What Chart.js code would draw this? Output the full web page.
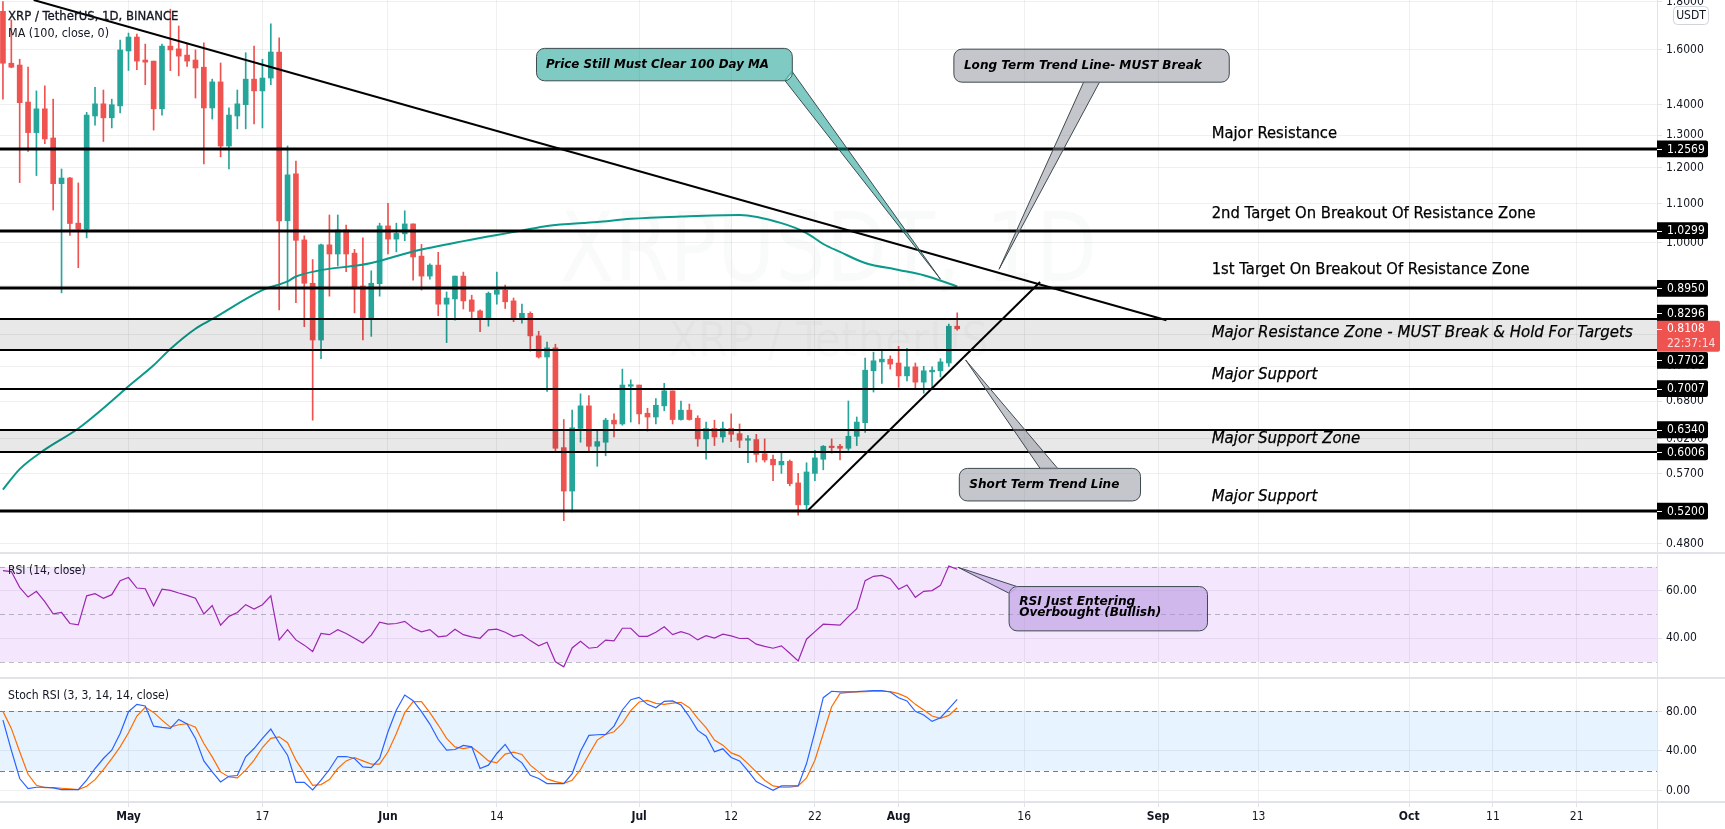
<!DOCTYPE html>
<html><head><meta charset="utf-8">
<style>html,body{margin:0;padding:0;background:#fff;overflow:hidden}canvas{display:block}</style>
<script src="https://cdn.jsdelivr.net/npm/chart.js@4"></script>
</head><body><canvas id="c" width="1725" height="829"></canvas>
<script>
const highs=[1.80,1.721,1.564,1.534,1.448,1.466,1.419,1.197,1.173,1.157,1.374,1.461,1.451,1.419,1.639,1.667,1.663,1.623,1.557,1.623,1.767,1.696,1.626,1.6,1.628,1.49,1.55,1.389,1.451,1.589,1.615,1.564,1.705,1.648,1.266,1.22,1.017,.96,.997,1.07,1.07,1.044,.984,1.012,.934,1.049,1.101,1.049,1.081,1.047,.996,.95,.977,.887,.922,.931,.88,.849,.887,.931,.902,.874,.861,.845,.806,.785,.781,.65,.665,.692,.689,.633,.652,.659,.735,.716,.707,.668,.684,.71,.697,.68,.675,.656,.646,.649,.646,.659,.643,.625,.627,.62,.596,.6,.589,.57,.585,.603,.61,.62,.612,.68,.654,.755,.766,.77,.759,.777,.773,.746,.74,.739,.754,.82,.843];
const opens=[1.758,1.549,1.542,1.409,1.308,1.386,1.291,1.155,1.171,1.049,1.034,1.362,1.403,1.356,1.396,1.596,1.651,1.561,1.557,1.386,1.615,1.604,1.58,1.561,1.534,1.389,1.48,1.266,1.362,1.4,1.49,1.448,1.494,1.592,1.055,1.183,1.007,.906,.789,.995,.973,1.032,.975,.9,.83,.905,1.042,1.009,1.022,1.047,.968,.922,.947,.861,.872,.922,.87,.847,.83,.882,.891,.868,.83,.842,.797,.757,.774,.607,.546,.636,.672,.609,.615,.649,.643,.705,.707,.66,.654,.672,.697,.65,.665,.652,.62,.636,.623,.636,.628,.618,.619,.598,.59,.582,.587,.557,.528,.57,.59,.609,.609,.606,.624,.645,.732,.748,.753,.746,.723,.739,.712,.73,.732,.746,.816];
const closes=[1.549,1.534,1.407,1.308,1.386,1.288,1.155,1.171,1.048,1.034,1.365,1.403,1.356,1.4,1.6,1.651,1.557,1.553,1.386,1.615,1.6,1.576,1.557,1.531,1.389,1.48,1.266,1.365,1.403,1.49,1.448,1.494,1.592,1.055,1.18,1.006,.906,.789,.995,.973,1.032,.973,.897,.83,.906,1.042,1.009,1.023,1.047,.966,.922,.947,.861,.874,.922,.868,.846,.83,.884,.891,.866,.83,.842,.797,.757,.774,.606,.546,.637,.672,.609,.616,.649,.643,.707,.707,.659,.654,.673,.697,.65,.665,.65,.62,.636,.623,.636,.627,.618,.619,.597,.589,.582,.587,.556,.528,.572,.592,.609,.607,.606,.624,.646,.733,.75,.753,.744,.723,.739,.712,.732,.733,.748,.816,.8108];
const lows=[1.419,1.532,1.158,1.249,1.178,1.273,1.083,.885,1.018,.941,1.012,1.332,1.28,1.323,1.372,1.522,1.525,1.47,1.316,1.365,1.521,1.502,1.537,1.423,1.212,1.352,1.233,1.197,1.32,1.32,1.336,1.323,1.47,.849,.899,.864,.815,.649,.754,.878,.945,.932,.843,.789,.796,.878,.973,.978,1.005,.913,.891,.915,.837,.784,.828,.851,.832,.805,.816,.861,.852,.825,.822,.768,.755,.696,.6,.508,.519,.615,.601,.58,.595,.623,.641,.646,.643,.632,.643,.664,.643,.649,.649,.609,.59,.61,.615,.616,.607,.585,.586,.586,.56,.57,.553,.515,.52,.56,.575,.599,.589,.603,.61,.63,.695,.71,.735,.703,.714,.7,.693,.7,.721,.74,.808];
const maDays=[0,2,5,9,13,15,18,20,23,25,31,34,35,44,49,55,62,65,71,75,81,88,93,96,98,100,103,107,110,114];
const maValues=[.548,.576,.604,.636,.68,.705,.742,.772,.811,.83,.891,.91,.921,.952,.979,1.004,1.03,1.042,1.052,1.06,1.066,1.07,1.049,1.024,.997,.978,.952,.936,.924,.899];
const rsiValues=[68.4,68,61.4,57.3,59.7,55.4,50.2,50.8,46.2,45.6,57.8,58.7,56.8,58.3,64.2,65.5,61.1,60.8,53.6,60.6,60.1,59,58,56.8,50.2,53.7,45.5,49.2,50.8,54.1,52.3,54.1,57.8,39.3,43.6,39.3,37.1,34.4,42,41.5,43.6,42,40,38,41.3,46.7,45.9,46.2,47.1,44.3,42.7,43.6,40.6,41,43.8,41.5,40.6,40,43.5,43.8,42.5,40.7,41.5,39,36.8,38.3,30.1,28,35.9,38.7,35.8,36.2,39.2,38.9,44.2,44.2,40.8,40.8,42.5,44.8,41.5,42.8,41.7,39.3,41.1,40.1,41.7,41,39.9,40,37.5,36.6,35.8,36.8,33.7,30.5,39.6,42.8,45.9,45.7,45.5,49.1,52.4,64.2,66,66.4,65,60.6,62.4,57.2,59.7,60,62.2,70.3,69];
const stochK=[71.2,40.8,12.2,2,3.4,3.4,2.7,1,1,1,10.5,22.3,32.4,40.8,57.7,79.7,87.1,85.4,65.1,63.8,62.8,71.9,67.2,52.7,30,18.9,8.8,14.5,15.2,34.1,42.5,52.7,62.1,48.3,35.8,8.4,8.4,.7,10.5,21.3,34.4,34.4,32.4,24,23.3,32.4,59.4,81.4,96.5,90.8,79.7,67.2,51.6,40.8,41.5,45.6,44.2,22.3,25.7,37.5,46.6,34.1,28,15.5,12.2,7.1,7.1,7.1,17.2,39.8,55.7,56.4,56.7,65.1,81.4,91.8,94.2,87.1,83.7,90.1,90.5,86.4,74.6,60.8,55,39.2,42.2,33.4,30,19.9,9.1,4.7,.3,4.7,4.7,4.7,27.3,59.4,93.8,100.3,99.6,99.6,99.9,100.6,100.9,100.9,99.6,93.8,90.5,80,76.3,69.9,73.6,82.7,92.2];
const stochD=[80,62.8,39.2,16.5,5.4,3,3,2.4,1.7,1,4.4,11.1,21.3,32.4,44.2,58.4,75.3,84.1,79,71.2,64.1,66.5,67.5,64.1,47.6,34.1,18.9,13.8,12.8,20.6,30.7,43.5,52.7,54.3,48.3,30.7,17.9,5.4,6.1,11.1,22.3,30,33.4,30,26.7,26.7,39.2,57.7,78.7,89.8,89.8,78.7,66.2,52.7,44.2,42.5,43.9,37.5,30,28,36.8,38.8,36.5,25.7,18.9,11.8,9.1,7.4,10.5,21.3,36.5,51,56.7,59.4,67.8,80.7,89.5,91.1,88.1,87.1,88.4,89.1,83.7,72.9,63.5,51,45.9,38.1,34.8,27.3,18.9,10.5,4.7,3.4,3.4,4.7,12.8,30.7,57.7,84.7,98.2,99.2,99.6,99.9,100.3,100.3,99.9,97.9,94.2,87.1,81.4,75.3,72.9,75.9,83.7];
const xTickDays=[15,31,46,59,76,87,97,107,122,138,150,168,178,188];
const xTickLabels=['May','17','Jun','14','Jul','12','22','Aug','16','Sep','13','Oct','11','21'];
const boldLabels=['May','Jun','Jul','Aug','Sep','Oct'];
const priceTicks=[1.8,1.6,1.4,1.3,1.2,1.1,1.0,.9,.8,.74,.68,.62,.57,.52,.48];
const rsiTicks=[60,40];
const stochTicks=[80,40,0];
const levelValues=[1.2569,1.0299,.895,.8296,.7702,.7007,.634,.6006,.52];
const levelTexts=['1.2569','1.0299','0.8950','0.8296','0.7702','0.7007','0.6340','0.6006','0.5200'];
const lastPrice=.8108;

const FONT='"DejaVu Sans Condensed","DejaVu Sans",sans-serif';
const NOTE_FONT='"DejaVu Sans",sans-serif';
const GREEN='#26a69a',RED='#ef5350',AXIS='#e0e3eb',GRID='rgba(42,46,57,0.07)',TXT='#131722';
const candleColor=i=>closes[i]>=opens[i]?GREEN:RED;

const labelNotes=[
 {t:'Major Resistance',day:144.4,p:1.303,w:125.4,it:false},
 {t:'2nd Target On Breakout Of Resistance Zone',day:144.4,p:1.072,w:324,it:false},
 {t:'1st Target On Breakout Of Resistance Zone',day:144.4,p:.935,w:318,it:false},
 {t:'Major Resistance Zone - MUST Break & Hold For Targets',day:144.4,p:.802,w:424.6,it:true},
 {t:'Major Support',day:144.4,p:.725,w:107.5,it:true},
 {t:'Major Support Zone',day:144.4,p:.619,w:149.7,it:true},
 {t:'Major Support',day:144.4,p:.5386,w:107.5,it:true}];
const callouts=[
 {axis:'y',l:63.74,r:94.3,top:1.606,bot:1.484,b1:[93.44,1.484],b2:[94.3,1.517],tip:[112,.915],fill:'rgba(0,150,136,0.5)',lines:[['Price Still Must Clear 100 Day MA',64.88,223]]},
 {axis:'y',l:113.6,r:146.5,top:1.603,bot:1.479,b1:[129.1,1.479],b2:[131,1.479],tip:[119,.9375],fill:'rgba(139,141,152,0.5)',lines:[['Long Term Trend Line- MUST Break',114.8,238]]},
 {axis:'y',l:114.25,r:135.9,top:.577,bot:.533,b1:[123.9,.577],b2:[126,.577],tip:[115,.7516],fill:'rgba(139,141,152,0.5)',lines:[['Short Term Trend Line',115.45,150]]},
 {axis:'yRsi',l:120.2,r:143.9,top:61.7,bot:43.1,b1:[121.15,61.7],b2:[120.2,58.9],tip:[114.1,69.8],fill:'rgba(174,140,220,0.5)',lines:[['RSI Just Entering',121.4,117.4,55.4],['Overbought (Bullish)',121.4,142,50.5]]}];
const trendLines=[[3.67,1.807,139,.828],[96.2,.521,123.9,.909]];

const noPad=s=>{s.paddingTop=0;s.paddingBottom=0;s.paddingLeft=0;s.paddingRight=0;};
const fixedAxis=s=>{s.width=68;noPad(s);};
function yAxis(extra,ticks,fmt){return Object.assign({position:'right',stack:'panes',bounds:'data',
  border:{display:false},grid:{color:GRID,tickLength:5,tickColor:AXIS,tickWidth:1,drawTicks:true},
  ticks:{color:TXT,padding:4,font:{family:FONT,size:12},autoSkip:false,callback:fmt,maxRotation:0},
  afterFit:fixedAxis,afterBuildTicks:s=>{s.ticks=ticks.map(v=>({value:v}));}},extra);}

function rr(c,x,y,w,h,r){c.beginPath();c.roundRect(x,y,w,h,r);}
const chartPlugin={id:'tv',
 beforeDatasetsDraw(ch){
  const c=ch.ctx,a=ch.chartArea,s=ch.scales;
  c.save();
  const mid=(s.y.top+s.y.bottom)/2;
  c.textAlign='center';c.textBaseline='alphabetic';c.fillStyle='rgba(19,23,34,0.022)';
  c.font='96px '+FONT;c.fillText('XRPUSDT, 1D',(a.left+a.right)/2,mid+4,537);
  c.font='48px '+FONT;c.fillText('XRP / TetherUS',(a.left+a.right)/2,mid+79,325);
  const band=(sc,hi,lo,col,dash,vals)=>{
    const y1=sc.getPixelForValue(hi),y2=sc.getPixelForValue(lo);
    c.fillStyle=col;c.fillRect(a.left,y1,a.right-a.left,y2-y1);
    c.strokeStyle=dash;c.lineWidth=1;c.setLineDash([5,4]);
    vals.forEach(v=>{const y=Math.round(sc.getPixelForValue(v))+.5;c.beginPath();c.moveTo(a.left,y);c.lineTo(a.right,y);c.stroke();});
    c.setLineDash([]);};
  band(s.yRsi,70,30,'rgba(145,5,235,0.1)','rgba(120,123,134,0.5)',[70,50,30]);
  band(s.yStoch,80,20,'rgba(33,150,243,0.11)','#787b86',[80,20]);
  c.restore();
 },
 afterDatasetsDraw(ch){
  const c=ch.ctx,a=ch.chartArea,s=ch.scales,x=s.x,y=s.y;
  c.save();
  const zone=(p1,p2)=>{c.fillStyle='rgba(0,0,0,0.09)';const t=y.getPixelForValue(p1);c.fillRect(a.left,t,a.right-a.left,y.getPixelForValue(p2)-t);};
  zone(levelValues[3],levelValues[4]);zone(levelValues[6],levelValues[7]);
  c.strokeStyle='#000';
  levelValues.forEach((v,i)=>{c.lineWidth=[0,1,2,8].includes(i)?3:2;const py=Math.round(y.getPixelForValue(v));
    c.beginPath();c.moveTo(a.left,py);c.lineTo(a.right,py);c.stroke();});
  c.lineWidth=2;c.lineCap='butt';
  trendLines.forEach(t=>{c.beginPath();c.moveTo(x.getPixelForValue(t[0]),y.getPixelForValue(t[1]));c.lineTo(x.getPixelForValue(t[2]),y.getPixelForValue(t[3]));c.stroke();});
  c.fillStyle='#000';c.strokeStyle='#000';c.textAlign='left';c.textBaseline='middle';
  labelNotes.forEach(n=>{c.font=(n.it?'italic ':'')+'15px '+NOTE_FONT;c.lineWidth=.25;
    const tx=x.getPixelForValue(n.day),ty=y.getPixelForValue(n.p);
    c.fillText(n.t,tx,ty,n.w);c.strokeText(n.t,tx,ty,n.w);});
  callouts.forEach(k=>{
    const sc=s[k.axis],px=d=>x.getPixelForValue(d),py=v=>sc.getPixelForValue(v);
    const L=px(k.l),R=px(k.r),T=py(k.top),B=py(k.bot);
    const b1=[px(k.b1[0]),py(k.b1[1])],b2=[px(k.b2[0]),py(k.b2[1])],tp=[px(k.tip[0]),py(k.tip[1])];
    c.fillStyle=k.fill;
    c.beginPath();c.roundRect(L,T,R-L,B-T,8);c.moveTo(b1[0],b1[1]);c.lineTo(tp[0],tp[1]);c.lineTo(b2[0],b2[1]);c.closePath();c.fill('nonzero');
    c.strokeStyle='#3d4a4f';c.lineWidth=1;
    rr(c,L,T,R-L,B-T,8);c.stroke();
    c.beginPath();c.moveTo(b1[0],b1[1]);c.lineTo(tp[0],tp[1]);c.lineTo(b2[0],b2[1]);c.stroke();
    c.strokeStyle=k.fill;c.lineWidth=2;c.beginPath();c.moveTo(b1[0],b1[1]);c.lineTo(b2[0],b2[1]);c.stroke();
    c.fillStyle='#000';c.font='italic bold 12.2px '+NOTE_FONT;
    k.lines.forEach(l=>c.fillText(l[0],px(l[1]),l.length>3?py(l[3]):(T+B)/2,l[2]));
  });
  c.restore();
 },
 afterDraw(ch){
  const c=ch.ctx,a=ch.chartArea,s=ch.scales,y=s.y,W=ch.width;
  c.save();
  c.strokeStyle=AXIS;c.lineWidth=1;
  c.beginPath();c.moveTo(a.right+.5,0);c.lineTo(a.right+.5,ch.height);c.stroke();
  c.lineWidth=2;
  [s.y.bottom,s.yRsi.bottom,s.x.top].forEach(v=>{c.beginPath();c.moveTo(0,v);c.lineTo(W,v);c.stroke();});
  const shift={3:-6.3,4:10.5};
  c.textAlign='left';c.textBaseline='middle';
  levelValues.forEach((v,i)=>{
    const cy=y.getPixelForValue(v)+(shift[i]||0);
    c.fillStyle='#000';rr(c,a.right,cy-8.4,51,16.8,[0,2,2,0]);c.fill();
    c.fillStyle='#fff';c.fillRect(a.right,Math.round(cy),5,1);
    c.font='12px '+FONT;c.fillText(levelTexts[i],a.right+10,cy+.5);
  });
  const ly=y.getPixelForValue(lastPrice);
  c.fillStyle=RED;rr(c,a.right,ly-8,63,31,[0,2,2,0]);c.fill();
  c.fillStyle='#fff';c.fillRect(a.right,Math.round(ly),5,1);
  c.font='12px '+FONT;c.fillText(lastPrice.toFixed(4),a.right+10,ly+.5);
  c.fillStyle='rgba(255,255,255,0.8)';c.fillText('22:37:14',a.right+10,ly+15);
  c.fillStyle='#fff';c.strokeStyle='#d1d4dc';c.lineWidth=1;rr(c,1673.5,6.5,35,18,4);c.fill();c.stroke();
  c.fillStyle=TXT;c.textAlign='center';c.font='12px '+FONT;c.fillText('USDT',1691,16);
  c.textAlign='left';c.fillStyle=TXT;c.strokeStyle=TXT;c.lineWidth=.3;
  c.font='13px '+FONT;c.fillText('XRP / TetherUS, 1D, BINANCE',8,16.7,171.5);c.strokeText('XRP / TetherUS, 1D, BINANCE',8,16.7,171.5);
  c.fillText('MA (100, close, 0)',8,33.3,101);
  c.fillText('RSI (14, close)',8,570.7,77.7);
  c.fillText('Stoch RSI (3, 3, 14, 14, close)',8,695.7,161);
  c.restore();
 }};

new Chart(document.getElementById('c'),{
 type:'line',
 plugins:[chartPlugin],
 data:{datasets:[
  {type:'line',label:'MA',yAxisID:'y',data:maDays.map((d,i)=>({x:d,y:maValues[i]})),borderColor:'#0a9a8a',borderWidth:2,pointRadius:0,cubicInterpolationMode:'monotone',order:1},
  {type:'bar',label:'Wick',yAxisID:'y',data:highs.map((h,i)=>({x:i,y:[lows[i],h]})),backgroundColor:highs.map((_,i)=>candleColor(i)),barThickness:1,grouped:false,borderWidth:0,order:3},
  {type:'bar',label:'Body',yAxisID:'y',data:opens.map((o,i)=>({x:i,y:[o,closes[i]]})),backgroundColor:opens.map((_,i)=>candleColor(i)),barThickness:5,grouped:false,borderWidth:0,minBarLength:1.5,order:2},
  {type:'line',label:'RSI',yAxisID:'yRsi',data:rsiValues.map((v,i)=>({x:i,y:v})),borderColor:'#9c27b0',borderWidth:1.2,pointRadius:0,tension:0},
  {type:'line',label:'K',yAxisID:'yStoch',data:stochK.map((v,i)=>({x:i,y:v})),borderColor:'#2962ff',borderWidth:1.2,pointRadius:0,tension:0},
  {type:'line',label:'D',yAxisID:'yStoch',data:stochD.map((v,i)=>({x:i,y:v})),borderColor:'#ff6d00',borderWidth:1.2,pointRadius:0,tension:0}
 ]},
 options:{responsive:false,animation:false,devicePixelRatio:1,
  layout:{padding:0},
  plugins:{legend:{display:false},tooltip:{enabled:false}},
  scales:{
   x:{type:'linear',position:'bottom',offset:false,min:-.352,max:197.6,bounds:'data',
      border:{display:false},grid:{color:GRID,offset:false,tickLength:5,tickColor:AXIS},
      ticks:{autoSkip:false,maxRotation:0,padding:3,color:TXT,
        callback:(v)=>xTickLabels[xTickDays.indexOf(v)]??'',
        font:ctx=>({family:FONT,size:12,weight:ctx.tick&&boldLabels.includes(ctx.tick.label)?'bold':'normal'})},
      afterFit:s=>{s.height=27;noPad(s);},
      afterBuildTicks:s=>{s.ticks=xTickDays.map(v=>({value:v}));}},
   y:yAxis({type:'logarithmic',min:.4695,max:1.807,stackWeight:553,weight:1},priceTicks,v=>Number(v).toFixed(4)),
   yRsi:yAxis({type:'linear',min:23.3,max:75.8,stackWeight:125,weight:2},rsiTicks,v=>Number(v).toFixed(2)),
   yStoch:yAxis({type:'linear',min:-11.5,max:113.7,stackWeight:124,weight:3},stochTicks,v=>Number(v).toFixed(2))
  }}
});
</script></body></html>
